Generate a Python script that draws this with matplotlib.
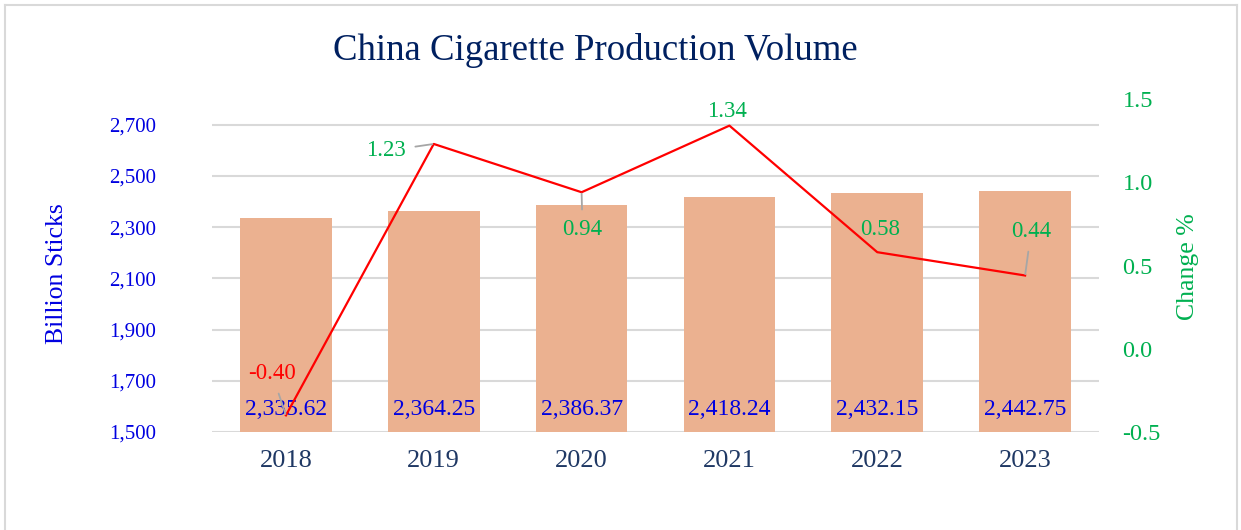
import matplotlib
matplotlib.use("Agg")
import matplotlib.pyplot as plt
from matplotlib.lines import Line2D
from matplotlib.ticker import FuncFormatter

# ---- data ----
years = ["2018", "2019", "2020", "2021", "2022", "2023"]
production = [2335.62, 2364.25, 2386.37, 2418.24, 2432.15, 2442.75]
change_pct = [-0.40, 1.23, 0.94, 1.34, 0.58, 0.44]
left_ticks = [1500, 1700, 1900, 2100, 2300, 2500, 2700]
right_ticks = [-0.5, 0.0, 0.5, 1.0, 1.5]

# ---- layout / style ----
W, H = 1241, 530
label_offsets = [(-10, 30), (-34.5, -5), (0.7, -27), (-2, 10), (2, 16), (4.3, 31.7)]
label_leaders = [True, True, True, False, False, True]

plt.rcParams['font.family'] = ['Liberation Serif', 'DejaVu Serif']
fig = plt.figure(figsize=(W / 100, H / 100), dpi=100)
fig.patch.set_facecolor('white')

ax = fig.add_axes([212 / W, 1 - 432 / H, (1099 - 212) / W, (432 - 99) / H])
x = list(range(len(years)))
ax.bar(x, production, width=0.62, color='#EBB190', zorder=2, bottom=0)
ax.set_ylim(1500, 2800)
ax.set_xlim(-0.5, len(years) - 0.5)
ax.set_yticks(left_ticks)
ax.yaxis.set_major_formatter(FuncFormatter(lambda v, p: f"{v:,.0f}"))
ax.grid(axis='y', color='#D9D9D9', linewidth=1.5, zorder=0)
ax.set_axisbelow(True)
ax.set_xticks(x)
ax.set_xticklabels(years)
ax.tick_params(axis='y', length=0, pad=40, labelsize=15, labelcolor='#0000E0')
ax.tick_params(axis='x', length=0, pad=13, labelsize=19, labelcolor='#1F3864')
for s in ax.spines.values():
    s.set_visible(False)

for xi, v in zip(x, production):
    ax.annotate(f"{v:,.2f}", xy=(xi, 1500), xytext=(0, 16.5), textcoords='offset points',
                ha='center', va='center', fontsize=17, color='#0000E0', zorder=3)

ax2 = ax.twinx()
ax2.plot(x, change_pct, color='#FF0000', linewidth=1.6, zorder=4)
ax2.set_ylim(-0.5, 1.5)
ax2.set_yticks(right_ticks)
ax2.yaxis.set_major_formatter(FuncFormatter(lambda v, p: f"{v:.1f}"))
ax2.tick_params(axis='y', length=0, pad=17, labelsize=17.5, labelcolor='#00B050')
for s in ax2.spines.values():
    s.set_visible(False)

for xi, v, off, lead in zip(x, change_pct, label_offsets, label_leaders):
    col = '#FF0000' if v < 0 else '#00B050'
    kw = {}
    if lead:
        kw['arrowprops'] = dict(arrowstyle='-', color='#A6A6A6', lw=1.3,
                                shrinkA=5, shrinkB=1)
    ax2.annotate(f"{v:.2f}", xy=(xi, v), xytext=off, textcoords='offset points',
                 ha='center', va='center', fontsize=16.5, color=col, zorder=5, **kw)

fig.text(595 / W, 1 - 50 / H, "China Cigarette Production Volume", ha='center', va='center',
         fontsize=26.5, color='#002060')
fig.text(57 / W, 1 - 274 / H, "Billion Sticks", rotation=90, ha='center', va='center',
         fontsize=18.5, color='#0000E0')
fig.text(1188 / W, 1 - 267 / H, "Change %", rotation=90, ha='center', va='center',
         fontsize=18.5, color='#00B050')

# outer frame
fc = '#D9D9D9'
fig.add_artist(Line2D([5 / W, 5 / W], [0, 1 - 5 / H], color=fc, lw=1.5, transform=fig.transFigure))
fig.add_artist(Line2D([1237 / W, 1237 / W], [0, 1 - 5 / H], color=fc, lw=1.5, transform=fig.transFigure))
fig.add_artist(Line2D([5 / W, 1237 / W], [1 - 5 / H, 1 - 5 / H], color=fc, lw=1.5, transform=fig.transFigure))

fig.savefig("out.png", dpi=100)
